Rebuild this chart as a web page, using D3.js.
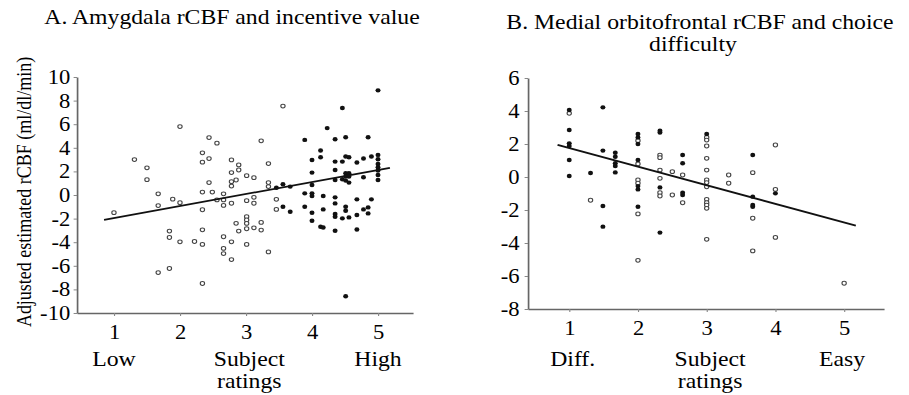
<!DOCTYPE html>
<html>
<head>
<meta charset="utf-8">
<script src="https://cdn.jsdelivr.net/npm/d3@7"></script>
<style>
  html, body { margin: 0; padding: 0; background: #fff; }
  svg { display: block; }
  text { font-family: "Liberation Serif", "Times New Roman", serif; fill: #000; }
</style>
</head>
<body>
<div id="viz"></div>
<script>
// panel A: amygdala rCBF vs incentive value, [rating, rCBF]
const aOpen = [[1,-1.5],[1.31,3.0],[1.5,2.3],[1.5,1.3],[1.67,0.1],[1.67,-0.9],[1.89,-0.35],[2,5.8],[2,-0.65],
  [1.84,-3.06],[1.84,-3.6],[2,-3.97],[1.67,-6.57],[1.84,-6.23],[2.22,-3.94],[2.34,3.57],[2.34,2.78],[2.44,4.87],
  [2.56,4.39],[2.44,3.09],[2.44,1.05],[2.34,0.25],[2.49,0.25],[2.56,-0.42],[2.34,-1.25],[2.34,-2.95],[2.34,-4.19],
  [2.34,-7.5],[2.66,0.1],[2.66,-0.42],[2.66,-0.88],[2.66,-3.54],[2.66,-4.53],[2.66,-4.96],[2.78,2.97],[2.78,1.9],
  [2.78,1.13],[2.78,0.76],[2.85,1.27],[2.89,2.55],[2.89,2.12],[2.78,-0.7],[2.78,-3.97],[2.78,-5.47],[2.85,-2.4],
  [2.89,-3.06],[3.01,1.64],[3.12,1.47],[3.01,-0.48],[3.01,-1.84],[3.01,-2.12],[3.01,-2.41],[3.01,-2.86],[3.12,-0.2],
  [3.12,-0.7],[3.12,-2.78],[3.01,-4.19],[3.23,4.59],[3.23,-2.32],[3.23,-2.97],[3.34,2.66],[3.34,1.05],[3.34,0.71],
  [3.34,-4.82],[3.46,-0.37],[3.46,-1.22],[3.56,7.54]];
const aFilled = [[3.46,0.62],[3.56,0.91],[3.67,0.71],[3.56,-0.99],[3.67,-1.42],[3.89,4.67],[3.89,0.14],[3.89,-0.99],
  [4,2.97],[4,1.9],[4,0.85],[4,0.14],[4,-0.08],[4,-1.5],[4,-2.18],[4.13,3.77],[4.13,3.2],[4.23,5.67],[4.17,-0.08],
  [4.17,-1.22],[4.13,-2.69],[4.17,-2.75],[4.35,4.73],[4.35,2.83],[4.35,2.12],[4.35,1.27],[4.35,-0.2],[4.35,-0.71],
  [4.35,-1.61],[4.35,-1.84],[4.35,-3.03],[4.46,7.37],[4.46,2.83],[4.46,1.33],[4.51,4.9],[4.51,3.26],[4.56,3.2],
  [4.51,1.84],[4.51,1.56],[4.51,1.22],[4.56,1.84],[4.56,1.56],[4.56,1.05],[4.51,-0.99],[4.51,-1.33],[4.46,-1.98],
  [4.56,-1.9],[4.51,-8.58],[4.68,2.75],[4.68,-0.37],[4.68,-1.7],[4.68,-2.92],[4.78,3.09],[4.78,1.5],[4.85,4.9],
  [4.78,-1.22],[4.85,-1.05],[4.85,-1.56],[4.9,-0.37],[4.9,3.26],[5,8.87],[5,3.4],[5,3.03],[5,2.63],[5,2.35],
  [5,2.07],[5,1.7],[5,1.27]];
const aFit = [[0.85,-2.1],[5.18,2.3]];

// panel B: medial orbitofrontal rCBF vs choice difficulty
const bFilled = [[1,4.06],[1,2.85],[1,2.04],[1,1.88],[1,1.03],[1,0.06],[1.31,0.24],[1.49,4.22],[1.49,1.6],
  [1.49,-1.76],[1.49,-3.01],[1.67,1.47],[1.67,1.23],[1.67,0.83],[1.67,0.67],[1.67,0.28],[2,2.61],[2,2.4],[2,2.0],
  [2,1.03],[2,-0.55],[2,-0.75],[2,-1.8],[2.32,2.81],[2.32,2.69],[2.32,-0.63],[2.32,-3.37],[2.65,1.33],[2.65,0.83],
  [2.65,-0.95],[2.65,-1.09],[3,2.61],[3.67,1.33],[3.67,-1.19],[3.67,-1.7],[3.67,-1.8],[4,-0.99]];
const bOpen = [[1,3.86],[1.31,-1.41],[2,2.2],[2,0.79],[2,-0.18],[2,-0.38],[2,-2.24],[2,-5.05],[2.32,1.33],
  [2.32,1.17],[2.32,0.42],[2.32,-0.08],[2.32,-0.95],[2.32,-1.15],[2.5,0.32],[2.5,-1.09],[2.65,0.12],[2.65,-1.56],
  [3,2.4],[3,2.24],[3,1.88],[3,1.13],[3,0.42],[3,-0.18],[3,-0.34],[3,-0.59],[3,-1.35],[3,-1.56],[3,-1.7],[3,-1.9],
  [3,-3.78],[3.32,0.12],[3.32,-0.38],[3.67,0.26],[3.67,-2.5],[3.67,-4.48],[4,1.94],[4,-0.75],[4,-3.66],[5,-6.44]];
const bFit = [[0.83,1.95],[5.17,-2.95]];

const xTicks = [1, 2, 3, 4, 5];
const aYTicks = [10, 8, 6, 4, 2, 0, -2, -4, -6, -8, -10];
const bYTicks = [6, 4, 2, 0, -2, -4, -6, -8];
const aCats = [[1, 'Low'], [3.05, 'Subject'], [5, 'High']];
const bCats = [[1.05, 'Diff.'], [3.05, 'Subject'], [4.97, 'Easy']];

// the original is a bit stretched horizontally, so draw in a narrower viewBox
const SX = 1.13;
const W = 909, H = 395;
const X = px => px / SX;

const svg = d3.select('#viz').append('svg')
  .attr('width', W).attr('height', H)
  .attr('viewBox', `0 0 ${W / SX} ${H}`)
  .attr('preserveAspectRatio', 'none');

function panel(opt) {
  const x = d3.scaleLinear().domain(opt.xDomain).range([X(opt.left), X(opt.right)]);
  const y = d3.scaleLinear().domain(opt.yDomain).range([opt.bottom, opt.top]);
  const g = svg.append('g');

  // axes
  const xAxis = d3.axisBottom(x).tickValues(xTicks).tickSize(3).tickSizeOuter(0).tickPadding(9)
    .tickFormat(d3.format('d'));
  const gx = g.append('g').attr('transform', `translate(0,${opt.bottom})`).call(xAxis);
  const yAxis = d3.axisLeft(y).tickValues(opt.yTicks).tickSize(3).tickSizeOuter(0)
    .tickPadding(opt.yPad).tickFormat(d => String(d));
  const gy = g.append('g').attr('transform', `translate(${X(opt.left)},0)`).call(yAxis);
  [gx, gy].forEach(a => {
    a.select('.domain').attr('stroke', '#666').attr('stroke-width', 1.5);
    a.selectAll('.tick line').attr('stroke', '#888');
    a.selectAll('text').style('font-size', '20px').attr('fill', '#000')
      .style('font-family', '"Liberation Serif", serif');
  });
  gx.selectAll('text').attr('dy', '0.71em');

  // points
  g.append('g').selectAll('circle')
    .data(opt.open).enter().append('circle')
    .attr('cx', d => x(d[0])).attr('cy', d => y(d[1]))
    .attr('r', 1.9).attr('fill', '#fff').attr('stroke', '#444').attr('stroke-width', 1);
  g.append('g').selectAll('circle')
    .data(opt.filled).enter().append('circle')
    .attr('cx', d => x(d[0])).attr('cy', d => y(d[1]))
    .attr('r', 2.2).attr('fill', '#111');

  // regression line
  const line = d3.line().x(d => x(d[0])).y(d => y(d[1]));
  g.append('path').datum(opt.fit).attr('d', line)
    .attr('stroke', '#111').attr('stroke-width', 1.8).attr('fill', 'none');

  // category labels under the ticks
  g.append('g').selectAll('text')
    .data(opt.cats).enter().append('text')
    .attr('x', d => x(d[0])).attr('y', 366)
    .attr('text-anchor', 'middle').style('font-size', '21px')
    .text(d => d[1]);
  g.append('text').attr('x', x(opt.cats[1][0])).attr('y', 388)
    .attr('text-anchor', 'middle').style('font-size', '21px').text('ratings');

  // titles
  opt.title.forEach(t => {
    g.append('text').attr('x', X(t[0])).attr('y', t[1])
      .attr('text-anchor', 'middle').style('font-size', '21px').text(t[2]);
  });
}

panel({
  xDomain: [0.44, 5.53], yDomain: [-10, 10], left: 77, right: 413, top: 77, bottom: 313,
  yTicks: aYTicks, yPad: 3, open: aOpen, filled: aFilled, fit: aFit, cats: aCats,
  title: [[232, 24, 'A. Amygdala rCBF and incentive value']]
});

panel({
  xDomain: [0.4, 5.58], yDomain: [-8, 6], left: 528, right: 884, top: 78, bottom: 309,
  yTicks: bYTicks, yPad: 4.5, open: bOpen, filled: bFilled, fit: bFit, cats: bCats,
  title: [[700, 29, 'B. Medial orbitofrontal rCBF and choice'], [693, 51, 'difficulty']]
});

// y axis label of panel A
svg.append('text')
  .attr('transform', `translate(${X(31)},192) rotate(-90)`)
  .attr('text-anchor', 'middle').style('font-size', '18px')
  .text('Adjusted estimated rCBF (ml/dl/min)');
</script>
</body>
</html>
